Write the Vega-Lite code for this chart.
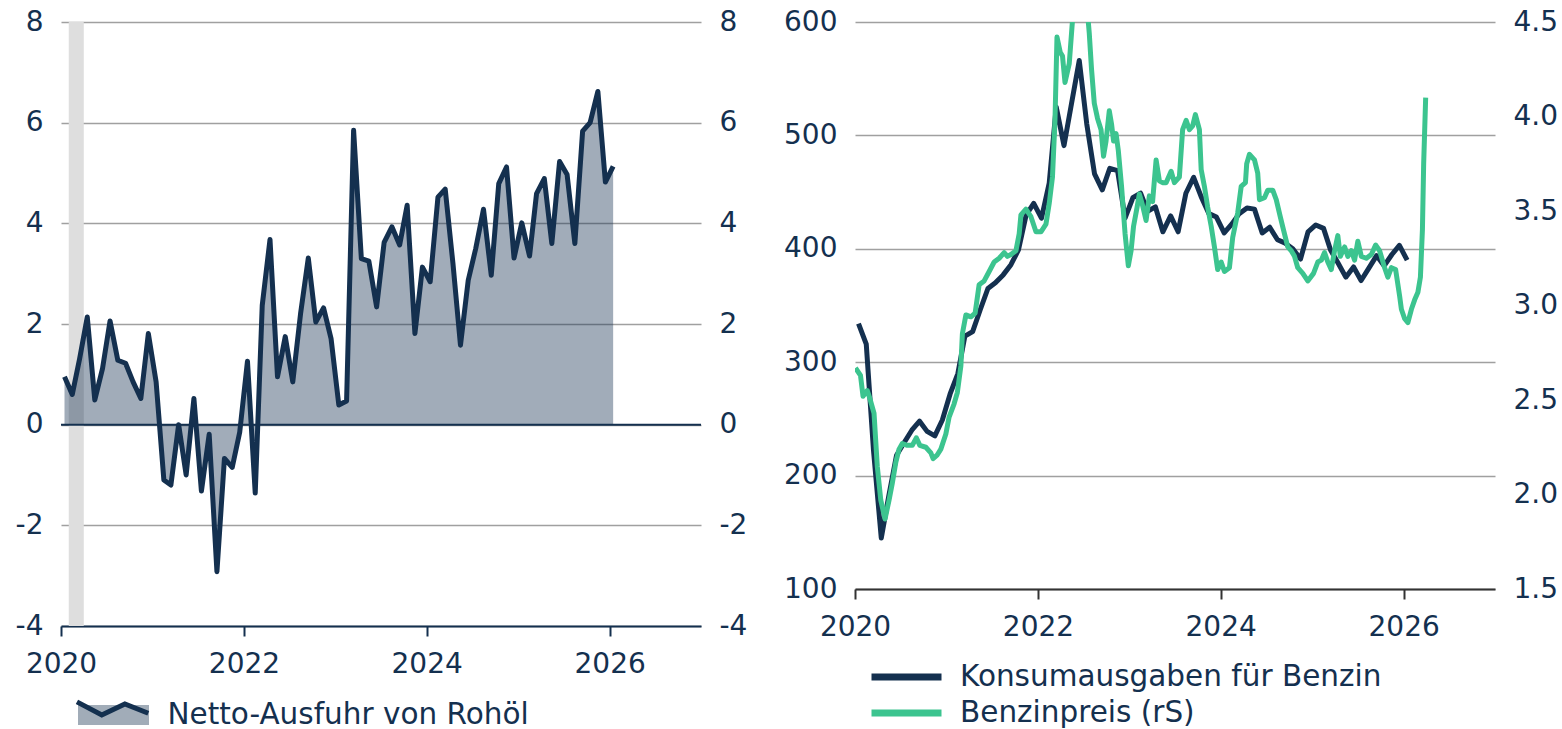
{
  "$schema": "https://vega.github.io/schema/vega-lite/v6.json",
  "background": "white",
  "padding": {"left": 15, "top": 8, "right": 0, "bottom": 0},
  "autosize": {"type": "pad"},
  "spacing": 36,
  "config": {
    "font": "DejaVu Sans",
    "view": {"stroke": null},
    "axis": {"labelFont": "DejaVu Sans", "labelFontSize": 28, "labelColor": "#14304F", "gridColor": "#A0A0A0", "gridWidth": 1.5},
    "axisX": {"grid": false, "domainWidth": 2, "tickWidth": 2, "tickSize": 10, "labelPadding": 14, "labelFlush": false, "domainColor": "#14304F", "tickColor": "#14304F"},
    "axisY": {"domain": false, "ticks": false, "labelPadding": 18},
    "legend": {"padding": 0, "labelFont": "DejaVu Sans", "labelFontSize": 29.5, "labelColor": "#14304F", "labelLimit": 1000, "rowPadding": 0}
  },
  "datasets": {
    "rec": [{"start": "2020-02-01", "end": "2020-04-01"}],
    "oil": [
      {"d": "2020-01-15", "v": 0.95}, {"d": "2020-02-15", "v": 0.6}, {"d": "2020-03-15", "v": 1.3}, {"d": "2020-04-15", "v": 2.14},
      {"d": "2020-05-15", "v": 0.49}, {"d": "2020-06-15", "v": 1.12}, {"d": "2020-07-15", "v": 2.06}, {"d": "2020-08-15", "v": 1.28},
      {"d": "2020-09-15", "v": 1.22}, {"d": "2020-10-15", "v": 0.85}, {"d": "2020-11-15", "v": 0.52}, {"d": "2020-12-15", "v": 1.81},
      {"d": "2021-01-15", "v": 0.85}, {"d": "2021-02-15", "v": -1.1}, {"d": "2021-03-15", "v": -1.2}, {"d": "2021-04-15", "v": 0.0},
      {"d": "2021-05-15", "v": -1.0}, {"d": "2021-06-15", "v": 0.52}, {"d": "2021-07-15", "v": -1.32}, {"d": "2021-08-15", "v": -0.19},
      {"d": "2021-09-15", "v": -2.92}, {"d": "2021-10-15", "v": -0.67}, {"d": "2021-11-15", "v": -0.85}, {"d": "2021-12-15", "v": -0.15},
      {"d": "2022-01-15", "v": 1.26}, {"d": "2022-02-15", "v": -1.36}, {"d": "2022-03-15", "v": 2.37}, {"d": "2022-04-15", "v": 3.68},
      {"d": "2022-05-15", "v": 0.95}, {"d": "2022-06-15", "v": 1.75}, {"d": "2022-07-15", "v": 0.85}, {"d": "2022-08-15", "v": 2.2},
      {"d": "2022-09-15", "v": 3.31}, {"d": "2022-10-15", "v": 2.04}, {"d": "2022-11-15", "v": 2.32}, {"d": "2022-12-15", "v": 1.71},
      {"d": "2023-01-15", "v": 0.39}, {"d": "2023-02-15", "v": 0.47}, {"d": "2023-03-15", "v": 5.85}, {"d": "2023-04-15", "v": 3.3},
      {"d": "2023-05-15", "v": 3.25}, {"d": "2023-06-15", "v": 2.34}, {"d": "2023-07-15", "v": 3.62}, {"d": "2023-08-15", "v": 3.93},
      {"d": "2023-09-15", "v": 3.57}, {"d": "2023-10-15", "v": 4.36}, {"d": "2023-11-15", "v": 1.81}, {"d": "2023-12-15", "v": 3.13},
      {"d": "2024-01-15", "v": 2.84}, {"d": "2024-02-15", "v": 4.52}, {"d": "2024-03-15", "v": 4.68}, {"d": "2024-04-15", "v": 3.2},
      {"d": "2024-05-15", "v": 1.58}, {"d": "2024-06-15", "v": 2.87}, {"d": "2024-07-15", "v": 3.5}, {"d": "2024-08-15", "v": 4.28},
      {"d": "2024-09-15", "v": 2.97}, {"d": "2024-10-15", "v": 4.79}, {"d": "2024-11-15", "v": 5.12}, {"d": "2024-12-15", "v": 3.31},
      {"d": "2025-01-15", "v": 4.01}, {"d": "2025-02-15", "v": 3.35}, {"d": "2025-03-15", "v": 4.59}, {"d": "2025-04-15", "v": 4.89},
      {"d": "2025-05-15", "v": 3.6}, {"d": "2025-06-15", "v": 5.23}, {"d": "2025-07-15", "v": 4.97}, {"d": "2025-08-15", "v": 3.6},
      {"d": "2025-09-15", "v": 5.83}, {"d": "2025-10-15", "v": 6.0}, {"d": "2025-11-15", "v": 6.62}, {"d": "2025-12-15", "v": 4.82},
      {"d": "2026-01-15", "v": 5.13}
    ],
    "spend": [
      {"d": "2020-01-15", "v": 334}, {"d": "2020-02-15", "v": 316}, {"d": "2020-03-15", "v": 222}, {"d": "2020-04-15", "v": 145},
      {"d": "2020-05-15", "v": 182}, {"d": "2020-06-15", "v": 218}, {"d": "2020-07-15", "v": 229}, {"d": "2020-08-15", "v": 240},
      {"d": "2020-09-15", "v": 248}, {"d": "2020-10-15", "v": 239}, {"d": "2020-11-15", "v": 235}, {"d": "2020-12-15", "v": 249},
      {"d": "2021-01-15", "v": 272}, {"d": "2021-02-15", "v": 290}, {"d": "2021-03-15", "v": 323}, {"d": "2021-04-15", "v": 327},
      {"d": "2021-05-15", "v": 346}, {"d": "2021-06-15", "v": 365}, {"d": "2021-07-15", "v": 370}, {"d": "2021-08-15", "v": 377},
      {"d": "2021-09-15", "v": 386}, {"d": "2021-10-15", "v": 399}, {"d": "2021-11-15", "v": 430}, {"d": "2021-12-15", "v": 440},
      {"d": "2022-01-15", "v": 427}, {"d": "2022-02-15", "v": 458}, {"d": "2022-03-15", "v": 525}, {"d": "2022-04-15", "v": 491},
      {"d": "2022-05-15", "v": 528}, {"d": "2022-06-15", "v": 566}, {"d": "2022-07-15", "v": 510}, {"d": "2022-08-15", "v": 466},
      {"d": "2022-09-15", "v": 452}, {"d": "2022-10-15", "v": 471}, {"d": "2022-11-15", "v": 469}, {"d": "2022-12-15", "v": 427},
      {"d": "2023-01-15", "v": 445}, {"d": "2023-02-15", "v": 449}, {"d": "2023-03-15", "v": 433}, {"d": "2023-04-15", "v": 437},
      {"d": "2023-05-15", "v": 415}, {"d": "2023-06-15", "v": 429}, {"d": "2023-07-15", "v": 415}, {"d": "2023-08-15", "v": 449},
      {"d": "2023-09-15", "v": 463}, {"d": "2023-10-15", "v": 446}, {"d": "2023-11-15", "v": 431}, {"d": "2023-12-15", "v": 428},
      {"d": "2024-01-15", "v": 414}, {"d": "2024-02-15", "v": 422}, {"d": "2024-03-15", "v": 431}, {"d": "2024-04-15", "v": 436},
      {"d": "2024-05-15", "v": 435}, {"d": "2024-06-15", "v": 414}, {"d": "2024-07-15", "v": 419}, {"d": "2024-08-15", "v": 408},
      {"d": "2024-09-15", "v": 405}, {"d": "2024-10-15", "v": 400}, {"d": "2024-11-15", "v": 391}, {"d": "2024-12-15", "v": 415},
      {"d": "2025-01-15", "v": 421}, {"d": "2025-02-15", "v": 418}, {"d": "2025-03-15", "v": 399}, {"d": "2025-04-15", "v": 387},
      {"d": "2025-05-15", "v": 375}, {"d": "2025-06-15", "v": 384}, {"d": "2025-07-15", "v": 372}, {"d": "2025-08-15", "v": 383},
      {"d": "2025-09-15", "v": 394}, {"d": "2025-10-15", "v": 385}, {"d": "2025-11-15", "v": 395}, {"d": "2025-12-15", "v": 403},
      {"d": "2026-01-15", "v": 390}
    ],
    "price": [
      {"d": "2020-01-03", "p": 2.67}, {"d": "2020-01-23", "p": 2.63}, {"d": "2020-02-02", "p": 2.52}, {"d": "2020-02-19", "p": 2.55},
      {"d": "2020-02-29", "p": 2.51}, {"d": "2020-03-17", "p": 2.43}, {"d": "2020-03-30", "p": 2.15}, {"d": "2020-04-13", "p": 1.97},
      {"d": "2020-04-30", "p": 1.87}, {"d": "2020-05-16", "p": 1.97}, {"d": "2020-05-29", "p": 2.06}, {"d": "2020-06-12", "p": 2.17},
      {"d": "2020-06-25", "p": 2.24}, {"d": "2020-07-08", "p": 2.27}, {"d": "2020-07-28", "p": 2.26}, {"d": "2020-08-17", "p": 2.26},
      {"d": "2020-09-02", "p": 2.3}, {"d": "2020-09-16", "p": 2.26}, {"d": "2020-10-10", "p": 2.25}, {"d": "2020-10-30", "p": 2.22},
      {"d": "2020-11-08", "p": 2.19}, {"d": "2020-11-25", "p": 2.21}, {"d": "2020-12-09", "p": 2.24}, {"d": "2020-12-29", "p": 2.32},
      {"d": "2021-01-11", "p": 2.41}, {"d": "2021-01-31", "p": 2.48}, {"d": "2021-02-13", "p": 2.54}, {"d": "2021-02-27", "p": 2.68},
      {"d": "2021-03-05", "p": 2.85}, {"d": "2021-03-19", "p": 2.95}, {"d": "2021-04-08", "p": 2.94}, {"d": "2021-04-25", "p": 2.96},
      {"d": "2021-05-11", "p": 3.11}, {"d": "2021-05-31", "p": 3.13}, {"d": "2021-06-20", "p": 3.18}, {"d": "2021-07-10", "p": 3.23},
      {"d": "2021-07-30", "p": 3.25}, {"d": "2021-08-19", "p": 3.28}, {"d": "2021-09-01", "p": 3.26}, {"d": "2021-09-15", "p": 3.27},
      {"d": "2021-10-05", "p": 3.29}, {"d": "2021-10-18", "p": 3.38}, {"d": "2021-10-25", "p": 3.48}, {"d": "2021-11-14", "p": 3.51},
      {"d": "2021-12-04", "p": 3.47}, {"d": "2021-12-24", "p": 3.39}, {"d": "2022-01-13", "p": 3.39}, {"d": "2022-02-02", "p": 3.43},
      {"d": "2022-02-15", "p": 3.54}, {"d": "2022-02-28", "p": 3.68}, {"d": "2022-03-10", "p": 3.98}, {"d": "2022-03-18", "p": 4.42},
      {"d": "2022-03-31", "p": 4.34}, {"d": "2022-04-09", "p": 4.32}, {"d": "2022-04-19", "p": 4.18}, {"d": "2022-05-06", "p": 4.28},
      {"d": "2022-05-19", "p": 4.51}, {"d": "2022-06-01", "p": 4.8}, {"d": "2022-06-15", "p": 5.0}, {"d": "2022-07-01", "p": 4.85},
      {"d": "2022-07-18", "p": 4.55}, {"d": "2022-07-25", "p": 4.44}, {"d": "2022-08-03", "p": 4.25}, {"d": "2022-08-14", "p": 4.07},
      {"d": "2022-08-27", "p": 3.99}, {"d": "2022-09-10", "p": 3.93}, {"d": "2022-09-20", "p": 3.79}, {"d": "2022-09-30", "p": 3.87},
      {"d": "2022-10-13", "p": 4.03}, {"d": "2022-10-22", "p": 3.96}, {"d": "2022-10-30", "p": 3.87}, {"d": "2022-11-09", "p": 3.91},
      {"d": "2022-11-18", "p": 3.82}, {"d": "2022-12-01", "p": 3.63}, {"d": "2022-12-15", "p": 3.38}, {"d": "2022-12-28", "p": 3.21},
      {"d": "2023-01-08", "p": 3.29}, {"d": "2023-01-18", "p": 3.42}, {"d": "2023-02-01", "p": 3.52}, {"d": "2023-02-10", "p": 3.59},
      {"d": "2023-02-23", "p": 3.53}, {"d": "2023-03-09", "p": 3.45}, {"d": "2023-03-22", "p": 3.58}, {"d": "2023-04-04", "p": 3.55},
      {"d": "2023-04-18", "p": 3.77}, {"d": "2023-05-01", "p": 3.66}, {"d": "2023-05-14", "p": 3.65}, {"d": "2023-05-28", "p": 3.65},
      {"d": "2023-06-17", "p": 3.71}, {"d": "2023-06-30", "p": 3.65}, {"d": "2023-07-20", "p": 3.68}, {"d": "2023-08-02", "p": 3.93},
      {"d": "2023-08-16", "p": 3.98}, {"d": "2023-08-29", "p": 3.93}, {"d": "2023-09-11", "p": 3.95}, {"d": "2023-09-22", "p": 4.01},
      {"d": "2023-10-08", "p": 3.93}, {"d": "2023-10-15", "p": 3.72}, {"d": "2023-10-28", "p": 3.63}, {"d": "2023-11-10", "p": 3.52},
      {"d": "2023-11-24", "p": 3.42}, {"d": "2023-12-07", "p": 3.31}, {"d": "2023-12-20", "p": 3.19}, {"d": "2024-01-03", "p": 3.23},
      {"d": "2024-01-16", "p": 3.18}, {"d": "2024-02-05", "p": 3.2}, {"d": "2024-02-18", "p": 3.36}, {"d": "2024-03-09", "p": 3.49},
      {"d": "2024-03-23", "p": 3.63}, {"d": "2024-04-09", "p": 3.65}, {"d": "2024-04-14", "p": 3.75}, {"d": "2024-04-25", "p": 3.8},
      {"d": "2024-05-15", "p": 3.77}, {"d": "2024-05-28", "p": 3.7}, {"d": "2024-06-04", "p": 3.56}, {"d": "2024-06-24", "p": 3.57},
      {"d": "2024-07-07", "p": 3.61}, {"d": "2024-07-27", "p": 3.61}, {"d": "2024-08-10", "p": 3.56}, {"d": "2024-08-26", "p": 3.47},
      {"d": "2024-09-08", "p": 3.4}, {"d": "2024-09-25", "p": 3.31}, {"d": "2024-10-09", "p": 3.29}, {"d": "2024-10-22", "p": 3.26},
      {"d": "2024-11-04", "p": 3.2}, {"d": "2024-11-24", "p": 3.17}, {"d": "2024-12-14", "p": 3.13}, {"d": "2025-01-06", "p": 3.17},
      {"d": "2025-01-23", "p": 3.23}, {"d": "2025-02-06", "p": 3.24}, {"d": "2025-02-19", "p": 3.28}, {"d": "2025-03-04", "p": 3.23},
      {"d": "2025-03-18", "p": 3.19}, {"d": "2025-03-31", "p": 3.29}, {"d": "2025-04-13", "p": 3.37}, {"d": "2025-04-23", "p": 3.26},
      {"d": "2025-05-10", "p": 3.31}, {"d": "2025-05-23", "p": 3.26}, {"d": "2025-06-06", "p": 3.29}, {"d": "2025-06-19", "p": 3.24},
      {"d": "2025-07-02", "p": 3.34}, {"d": "2025-07-16", "p": 3.26}, {"d": "2025-08-05", "p": 3.25}, {"d": "2025-08-25", "p": 3.27},
      {"d": "2025-09-11", "p": 3.32}, {"d": "2025-09-27", "p": 3.29}, {"d": "2025-10-17", "p": 3.2}, {"d": "2025-10-30", "p": 3.15},
      {"d": "2025-11-13", "p": 3.2}, {"d": "2025-11-30", "p": 3.19}, {"d": "2025-12-16", "p": 3.05}, {"d": "2025-12-23", "p": 2.98},
      {"d": "2026-01-05", "p": 2.93}, {"d": "2026-01-18", "p": 2.91}, {"d": "2026-02-01", "p": 2.98}, {"d": "2026-02-14", "p": 3.03},
      {"d": "2026-02-27", "p": 3.07}, {"d": "2026-03-09", "p": 3.15}, {"d": "2026-03-17", "p": 3.4}, {"d": "2026-03-22", "p": 3.75},
      {"d": "2026-03-30", "p": 4.1}
    ]
  },
  "hconcat": [
    {
      "width": 640,
      "height": 604,
      "layer": [
        {
          "data": {"name": "rec"},
          "mark": {"type": "rect", "color": "#DEDEDE"},
          "encoding": {
            "x": {"field": "start", "type": "temporal", "title": null,
              "scale": {"type": "utc", "domain": [{"year": 2020, "month": 1, "date": 1, "utc": true}, {"year": 2027, "month": 1, "date": 1, "utc": true}]},
              "axis": {"values": [{"year": 2020, "month": 1, "date": 1, "utc": true}, {"year": 2022, "month": 1, "date": 1, "utc": true}, {"year": 2024, "month": 1, "date": 1, "utc": true}, {"year": 2026, "month": 1, "date": 1, "utc": true}],
                "labelExpr": "utcFormat(datum.value, '%Y')"}},
            "x2": {"field": "end"}
          }
        },
        {
          "data": {"name": "oil"},
          "mark": {"type": "area", "opacity": 0.4},
          "encoding": {
            "x": {"field": "d", "type": "temporal", "title": null},
            "y": {"field": "v", "type": "quantitative", "title": null,
              "scale": {"domain": [-4, 8], "nice": false, "zero": false},
              "axis": {"orient": "left", "values": [-4, -2, 0, 2, 4, 6, 8], "grid": true, "labelExpr": "datum.value < 0 ? '-' + abs(datum.value) : '' + datum.value"}},
            "fill": {"datum": "Netto-Ausfuhr von Rohöl", "scale": {"range": ["#14304F"]},
              "legend": {"title": null, "orient": "none", "legendX": 14.5, "legendY": 676, "symbolType": "M-1,-0.28H1V0.28H-1Z", "symbolSize": 5041, "symbolStrokeWidth": 5, "symbolStrokeColor": "transparent", "clipHeight": 34, "labelOffset": 16}}
          }
        },
        {
          "data": {"name": "oil"},
          "mark": {"type": "line", "strokeWidth": 5, "strokeJoin": "round"},
          "encoding": {
            "x": {"field": "d", "type": "temporal", "title": null},
            "y": {"field": "v", "type": "quantitative", "title": null,
              "scale": {"domain": [-4, 8], "nice": false, "zero": false},
              "axis": {"orient": "right", "values": [-4, -2, 0, 2, 4, 6, 8], "grid": false, "labelExpr": "datum.value < 0 ? '-' + abs(datum.value) : '' + datum.value"}},
            "stroke": {"datum": "Linie", "scale": {"range": ["#14304F"]},
              "legend": {"title": null, "orient": "none", "legendX": 14.5, "legendY": 676, "symbolType": "M-1.03,-0.37L-0.33,0L0.32,-0.31L0.98,-0.05", "symbolSize": 5041, "symbolStrokeWidth": 5, "symbolFillColor": "transparent", "clipHeight": 34, "labelOffset": 16, "labelExpr": "''", "zindex": 1}}
          }
        },
        {
          "data": {"values": [{}]},
          "mark": {"type": "rule", "color": "#14304F", "strokeWidth": 2},
          "encoding": {
            "y": {"datum": 0, "type": "quantitative", "scale": {"domain": [-4, 8], "nice": false, "zero": false}, "axis": null}
          }
        }
      ],
      "resolve": {"scale": {"y": "independent"}}
    },
    {
      "width": 640,
      "height": 567,
      "layer": [
        {
          "data": {"name": "spend"},
          "mark": {"type": "line", "strokeWidth": 5, "strokeJoin": "round"},
          "encoding": {
            "x": {"field": "d", "type": "temporal", "title": null,
              "scale": {"type": "utc", "domain": [{"year": 2020, "month": 1, "date": 1, "utc": true}, {"year": 2027, "month": 1, "date": 1, "utc": true}]},
              "axis": {"values": [{"year": 2020, "month": 1, "date": 1, "utc": true}, {"year": 2022, "month": 1, "date": 1, "utc": true}, {"year": 2024, "month": 1, "date": 1, "utc": true}, {"year": 2026, "month": 1, "date": 1, "utc": true}],
                "labelExpr": "utcFormat(datum.value, '%Y')", "domainColor": "#333333", "tickColor": "#333333"}},
            "y": {"field": "v", "type": "quantitative", "title": null,
              "scale": {"domain": [100, 600], "nice": false, "zero": false},
              "axis": {"orient": "left", "values": [100, 200, 300, 400, 500, 600], "grid": true}},
            "stroke": {"datum": "Konsumausgaben für Benzin",
              "scale": {"domain": ["Konsumausgaben für Benzin", "Benzinpreis (rS)"], "range": ["#14304F", "#3CC48F"]},
              "legend": {"title": null, "orient": "none", "direction": "vertical", "legendX": 13, "legendY": 637, "symbolType": "stroke", "symbolSize": 4900, "symbolStrokeWidth": 7, "clipHeight": 36, "rowPadding": 0, "labelOffset": 15}}
          }
        },
        {
          "data": {"name": "price"},
          "mark": {"type": "line", "strokeWidth": 5, "strokeJoin": "round", "clip": true},
          "encoding": {
            "x": {"field": "d", "type": "temporal", "title": null},
            "y": {"field": "p", "type": "quantitative", "title": null,
              "scale": {"domain": [1.5, 4.5], "nice": false, "zero": false},
              "axis": {"orient": "right", "values": [1.5, 2, 2.5, 3, 3.5, 4, 4.5], "format": ".1f", "grid": false}},
            "stroke": {"datum": "Benzinpreis (rS)",
              "legend": {"title": null, "orient": "none", "direction": "vertical", "legendX": 13, "legendY": 637, "symbolType": "stroke", "symbolSize": 4900, "symbolStrokeWidth": 7, "clipHeight": 36, "rowPadding": 0, "labelOffset": 15}}
          }
        }
      ],
      "resolve": {"scale": {"y": "independent"}}
    }
  ],
  "resolve": {"scale": {"fill": "independent", "stroke": "independent"}, "legend": {"fill": "independent", "stroke": "independent"}}
}
